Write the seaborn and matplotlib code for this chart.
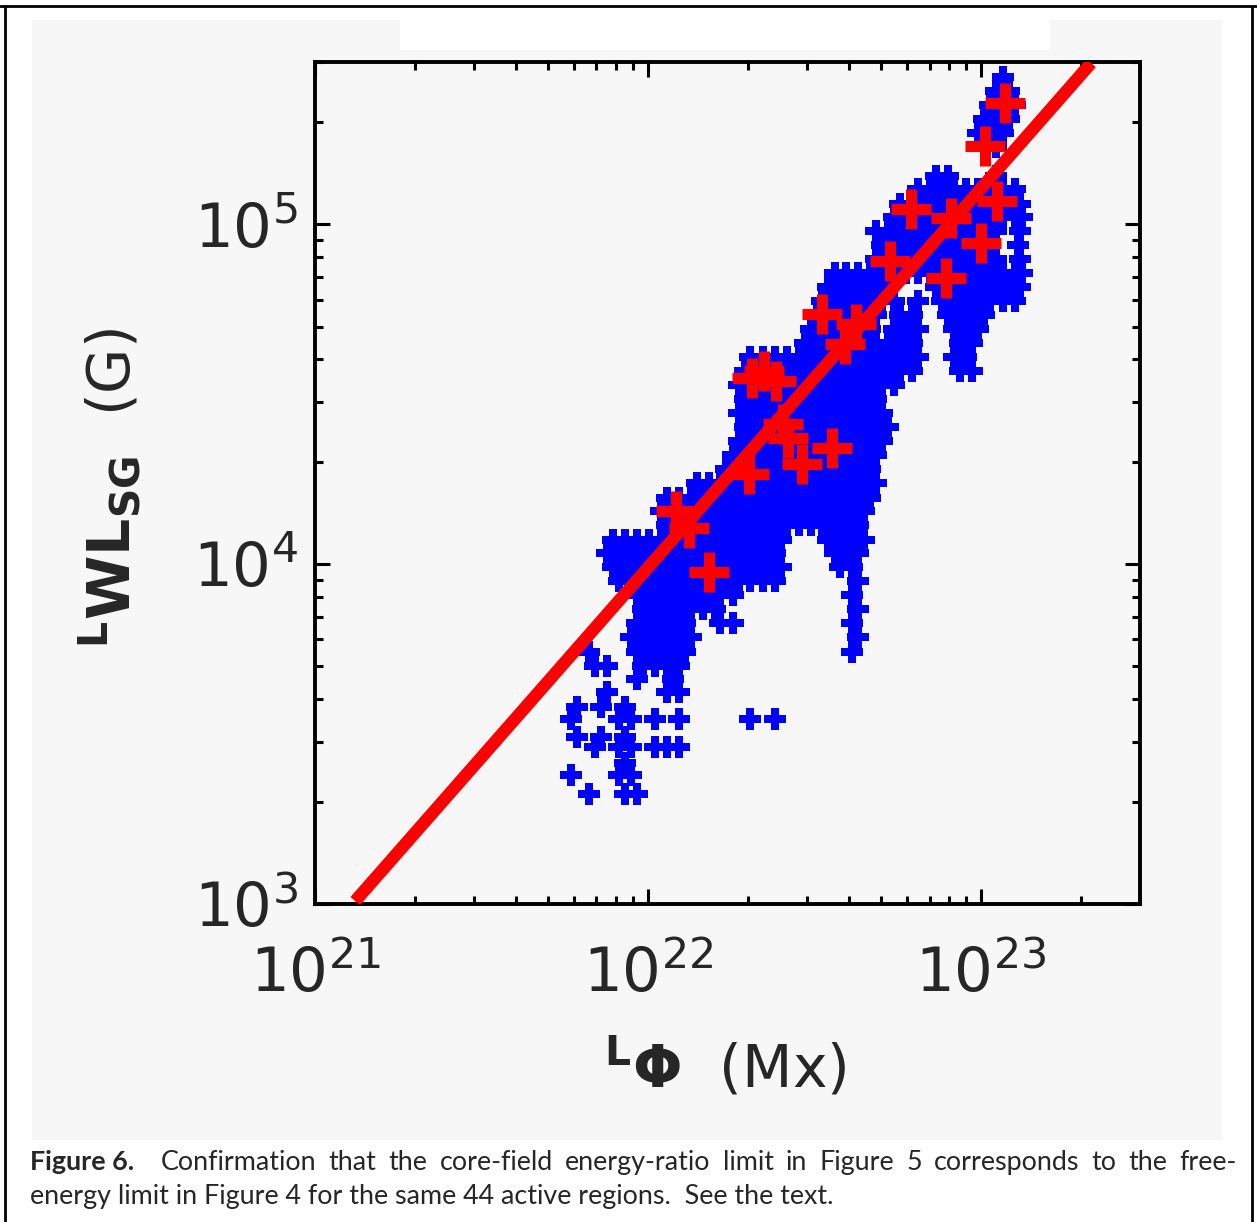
"""
Figure 6 : flux du coeur de region active vs limite WL_SG (log-log).
Nuage bleu = mesures, croix rouges = 44 regions actives, droite rouge = limite.
"""
import numpy as np
import pandas as pd
import matplotlib
matplotlib.use("Agg")
import matplotlib.pyplot as plt
import seaborn as sns
from matplotlib.patches import Rectangle
from matplotlib.lines import Line2D

# ---- donnees -----------------------------------------------------------
# nuage bleu, une ligne par niveau de WL_SG (unites : 1e4 G), flux en 1e22 Mx
blue_wl_rows = [27.1, 24.6, 22.4, 20.4, 18.5, 16.9, 13.9, 12.7, 11.5, 10.5,
                9.54, 8.68, 7.89, 7.18, 6.53, 5.94, 5.40, 4.91, 4.47, 4.06,
                3.70, 3.36, 3.06, 2.78, 2.53, 2.30, 2.09, 1.90, 1.73, 1.57,
                1.43, 1.30, 1.18, 1.08, 0.98, 0.89, 0.81, 0.74, 0.67, 0.61,
                0.55, 0.50, 0.46, 0.42, 0.38, 0.35, 0.31, 0.29, 0.26, 0.24,
                0.21]
blue_flux_rows = [
    [11.6],
    [11.1, 12.1],
    [10.6, 11.6, 12.6],
    [10.2, 11.1, 12.1],
    [9.80, 10.6, 11.6],
    [10.2, 11.1],
    [7.33, 7.97, 11.1],
    [6.48, 7.04, 7.64, 8.30, 9.02, 9.80, 10.6, 11.6, 12.6],
    [5.72, 6.22, 6.75, 7.33, 7.97, 8.65, 9.40, 10.2, 11.1, 12.1, 13.1],
    [5.49, 5.96, 6.48, 7.04, 7.64, 8.30, 9.02, 9.80, 10.6, 11.6, 12.6, 13.3],
    [4.85, 5.27, 5.72, 6.22, 6.75, 7.33, 7.97, 8.65, 9.40, 10.2, 11.1, 13.1],
    [5.05, 5.49, 5.96, 6.48, 7.04, 7.64, 8.30, 9.02, 9.80, 10.6, 12.9],
    [4.85, 5.27, 5.72, 6.22, 6.75, 7.33, 7.97, 8.65, 9.40, 10.2, 11.1, 13.1],
    [3.63, 3.94, 4.28, 4.65, 5.05, 5.49, 5.96, 6.48, 7.04, 7.64, 8.30, 9.02,
     9.80, 10.6, 11.6, 12.6, 13.3],
    [3.48, 3.78, 4.11, 4.46, 4.85, 5.27, 7.33, 7.97, 8.65, 9.40, 10.2, 11.1,
     12.1, 13.1],
    [3.34, 3.63, 3.94, 4.28, 4.65, 5.05, 5.49, 6.48, 7.64, 8.30, 9.02, 9.80,
     10.6, 11.6, 12.6],
    [3.21, 3.48, 3.78, 4.11, 4.46, 4.85, 5.72, 6.22, 7.97, 8.65, 9.40, 10.2],
    [3.08, 3.34, 3.63, 3.94, 4.28, 4.65, 5.49, 5.96, 6.48, 8.30, 9.02, 9.80],
    [2.95, 3.21, 3.48, 3.78, 4.11, 4.46, 4.85, 5.27, 5.72, 6.22, 8.65, 9.40],
    [2.03, 2.21, 2.40, 2.61, 2.83, 3.08, 3.34, 3.63, 3.94, 4.28, 4.65, 5.05,
     5.49, 5.96, 6.48, 8.30, 9.02],
    [1.95, 2.12, 2.30, 2.50, 2.72, 2.95, 3.21, 3.48, 3.78, 4.11, 4.46, 4.85,
     5.27, 5.72, 6.22, 8.65, 9.40],
    [1.87, 2.03, 2.21, 2.40, 2.61, 2.83, 3.08, 3.34, 3.63, 3.94, 4.28, 4.65,
     5.05, 5.49],
    [1.95, 2.12, 2.30, 2.50, 2.72, 2.95, 3.21, 3.48, 3.78, 4.11, 4.46, 4.85],
    [1.87, 2.03, 2.21, 2.40, 2.61, 2.83, 3.08, 3.34, 3.63, 3.94, 4.28, 4.65,
     5.05],
    [1.95, 2.12, 2.30, 2.50, 2.72, 2.95, 3.21, 3.48, 3.78, 4.11, 4.46, 4.85,
     5.27],
    [1.87, 2.03, 2.21, 2.40, 2.61, 2.83, 3.08, 3.34, 3.63, 3.94, 4.28, 4.65,
     5.05],
    [1.80, 1.95, 2.12, 2.30, 2.50, 2.72, 2.95, 3.21, 3.48, 3.78, 4.11, 4.46,
     4.85],
    [1.72, 1.87, 2.03, 2.21, 2.40, 2.61, 2.83, 3.08, 3.34, 3.63, 3.94, 4.28,
     4.65],
    [1.40, 1.52, 1.65, 1.80, 1.95, 2.12, 2.30, 2.50, 2.72, 2.95, 3.21, 3.48,
     3.78, 4.11, 4.46, 4.85],
    [1.14, 1.24, 1.35, 1.46, 1.59, 1.72, 1.87, 2.03, 2.21, 2.40, 2.61, 2.83,
     3.08, 3.34, 3.63, 3.94, 4.28, 4.65],
    [1.09, 1.19, 1.29, 1.40, 1.52, 1.65, 1.80, 1.95, 2.12, 2.30, 2.50, 2.72,
     2.95, 3.21, 3.48, 3.78, 4.11, 4.46],
    [1.14, 1.24, 1.35, 1.46, 1.59, 1.72, 1.87, 2.03, 2.21, 2.40, 2.61, 2.83,
     3.08, 3.34, 3.63, 3.94, 4.28],
    [0.786, 0.853, 0.927, 1.01, 1.09, 1.19, 1.29, 1.40, 1.52, 1.65, 1.80,
     1.95, 2.12, 2.30, 2.50, 3.48, 3.78, 4.11, 4.46],
    [0.754, 0.819, 0.889, 0.966, 1.05, 1.14, 1.24, 1.35, 1.46, 1.59, 1.72,
     1.87, 2.03, 2.21, 2.40, 3.63, 3.94, 4.28],
    [0.786, 0.853, 0.927, 1.01, 1.09, 1.19, 1.29, 1.40, 1.52, 1.65, 1.80,
     1.95, 2.12, 2.30, 2.50, 3.78, 4.11],
    [0.819, 0.889, 0.966, 1.05, 1.14, 1.24, 1.35, 1.46, 1.59, 1.72, 1.87,
     2.03, 2.21, 2.40, 4.28],
    [0.927, 1.01, 1.09, 1.19, 1.29, 1.40, 1.52, 1.65, 1.80, 4.11],
    [0.966, 1.05, 1.14, 1.24, 1.35, 1.46, 1.59, 4.28],
    [0.927, 1.01, 1.09, 1.19, 1.29, 1.65, 1.80, 4.11],
    [0.889, 0.966, 1.05, 1.14, 1.24, 1.35, 4.28],
    [0.666, 0.927, 1.01, 1.09, 1.19, 1.29, 4.11],
    [0.694, 0.754, 0.966, 1.05, 1.14, 1.24],
    [0.927, 1.19],
    [0.754, 1.14, 1.24],
    [0.613, 0.723, 0.853],
    [0.588, 0.819, 0.889, 1.05, 1.24, 2.03, 2.40],
    [0.613, 0.723, 0.853],
    [0.694, 0.819, 0.889, 1.05, 1.14, 1.24],
    [0.853],
    [0.588, 0.819, 0.889],
    [0.666, 0.853, 0.927],
]

# croix rouges (flux en 1e22 Mx, WL_SG en 1e4 G)
red_flux = [11.8, 10.3, 6.17, 8.13, 11.2, 10.0, 5.34, 7.86, 3.32, 4.20, 3.91,
            2.05, 2.42, 2.55, 2.01, 2.89, 3.56, 1.21, 1.33, 1.52, 2.23, 2.64]
red_wl = [22.7, 17.0, 11.1, 10.4, 11.7, 8.80, 7.78, 6.94, 5.44, 5.08, 4.44,
          3.52, 3.45, 2.58, 1.84, 1.97, 2.19, 1.43, 1.28, 0.95, 3.70, 2.35]

# droite limite (extremites sur le cadre)
fit_flux = [1.32e21, 2.14e23]
fit_wl = [1.02e3, 2.98e5]

XLABEL = r"$^{\mathbf{L}}\mathbf{\Phi}$  (Mx)"
YLABEL = r"$^{\mathbf{L}}\mathbf{WL}_{\mathbf{SG}}$  (G)"
CAP_BOLD = "Figure 6."
CAP_L1 = ("Confirmation that the core-field energy-ratio limit in Figure 5 "
          "corresponds to the free-")
CAP_L2 = ("energy limit in Figure 4 for the same 44 active regions.  "
          "See the text.")

# ---- tables ---------------------------------------------------------------
blue = pd.DataFrame({
    "flux": [f * 1e22 for row in blue_flux_rows for f in row],
    "wl": [w * 1e4 for w, row in zip(blue_wl_rows, blue_flux_rows) for _ in row],
})
red = pd.DataFrame({"flux": np.array(red_flux) * 1e22,
                    "wl": np.array(red_wl) * 1e4})
fit = pd.DataFrame({"flux": fit_flux, "wl": fit_wl})

# ---- figure ---------------------------------------------------------------
sns.set_theme(style="ticks")
plt.rcParams["font.family"] = ["DejaVu Sans"]
plt.rcParams["mathtext.fontset"] = "dejavusans"

W, H = 1257, 1222
fig = plt.figure(figsize=(W / 100, H / 100), dpi=100, facecolor="white")

def fx(px):
    return px / W

def fy(py):
    return 1 - py / H

# fond gris clair de la figure scannee
fig.patches.append(Rectangle((fx(32), fy(1140)), fx(1222) - fx(32),
                             fy(20) - fy(1140), transform=fig.transFigure,
                             facecolor="#f7f7f7", edgecolor="none", zorder=-10))
fig.patches.append(Rectangle((fx(400), fy(50)), fx(1050) - fx(400),
                             fy(20) - fy(50), transform=fig.transFigure,
                             facecolor="white", edgecolor="none", zorder=-9))
# cadre de la page
for xs, ys in [((0, 1), (fy(6), fy(6))),
               ((fx(5), fx(5)), (fy(6), 0)),
               ((fx(1252), fx(1252)), (fy(6), 0))]:
    fig.add_artist(Line2D(xs, ys, transform=fig.transFigure,
                          color="black", linewidth=2))

ax = fig.add_axes([fx(315), fy(904), fx(1140) - fx(315), fy(62) - fy(904)])
ax.set_facecolor("none")
ax.set(xscale="log", yscale="log")

sns.scatterplot(data=blue, x="flux", y="wl", marker="P", s=250,
                color="#0000ff", linewidth=0, ax=ax, zorder=2)
sns.lineplot(data=fit, x="flux", y="wl", color="#ff0000", linewidth=9,
             ax=ax, zorder=3, solid_capstyle="butt")
sns.scatterplot(data=red, x="flux", y="wl", marker="+", s=830,
                color="#ff0000", linewidth=8, ax=ax, zorder=4)

ax.set_xlim(1e21, 3e23)
ax.set_ylim(1e3, 3e5)

for sp in ax.spines.values():
    sp.set_linewidth(2.8)
    sp.set_color("black")
ax.tick_params(which="both", direction="in", top=True, right=True,
               color="black", width=2.2)
ax.tick_params(which="major", length=11, labelsize=44)
ax.tick_params(which="minor", length=6)
ax.tick_params(axis="x", which="major", pad=30)
ax.tick_params(axis="y", which="major", pad=12)

ax.set_xlabel(XLABEL, fontsize=42, va="center")
ax.set_ylabel(YLABEL, fontsize=42, va="center")
ax.xaxis.set_label_coords((725 - 315) / 825, -(1068 - 904) / 842)
ax.yaxis.set_label_coords(-(315 - 110) / 825, (904 - 488) / 842)

# legende sous la figure : taille calee sur la 2e ligne, 1re ligne justifiee
fig.canvas.draw()
r = fig.canvas.get_renderer()
fs = 16
t2 = fig.text(fx(30), fy(1204), CAP_L2, fontsize=fs, family="Lato",
              va="baseline")
fs = fs * (836 - 30) / t2.get_window_extent(r).width
t2.set_fontsize(fs)
fig.text(fx(30), fy(1170), CAP_BOLD, fontsize=fs, family="Lato",
         fontweight="bold", va="baseline")
words = [fig.text(0, fy(1170), w, fontsize=fs, family="Lato", va="baseline")
         for w in CAP_L1.split(" ")]
widths = [t.get_window_extent(r).width for t in words]
gap = ((1237 - 161) - sum(widths)) / (len(words) - 1)
xpos = 161.0
for t, w in zip(words, widths):
    t.set_x(fx(xpos))
    xpos += w + gap

fig.savefig("out.png", dpi=100, facecolor="white")
